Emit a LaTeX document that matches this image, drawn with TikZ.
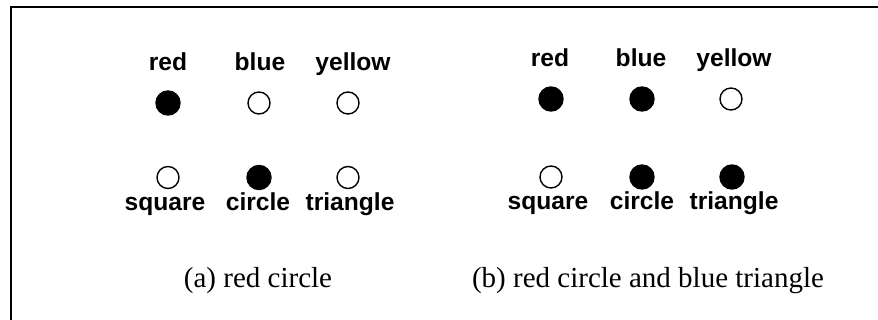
\documentclass[tikz,border=0pt]{standalone}
\usepackage{fontspec}
\setmainfont{Liberation Serif}
\setsansfont{Liberation Sans}
\usepackage{tikz}

\tikzset{
    fulldot/.style={circle,draw,fill=black,line width=0.7pt,minimum size=12pt,inner sep=0pt},
    emptydot/.style={circle,draw,fill=white,line width=0.7pt,minimum size=11pt,inner sep=0pt},
    attr/.style={anchor=base,inner sep=0pt,font=\sffamily\bfseries\fontsize{12.3}{14}\selectfont},
    capt/.style={anchor=base,inner sep=0pt,font=\rmfamily\fontsize{14.5}{17}\selectfont}
}

\begin{document}
\begin{tikzpicture}[x=0.5pt,y=-0.5pt]
    \useasboundingbox (0,0) rectangle (878,320);
    \coordinate (corner) at (11,7);
    \draw[line width=1pt] (11,320) -- (corner) -- (878,7);

    % (a) red circle
    \node[attr] (a-lred) at (168,71) {red};
    \node[attr] (a-lblue) at (260,71) {blue};
    \node[attr] (a-lyellow) at (353,71) {yellow};
    \node[fulldot] (a-red) at (168,103) {};
    \node[emptydot] (a-blue) at (259,103) {};
    \node[emptydot] (a-yellow) at (348,103) {};
    \node[emptydot] (a-square) at (168,177.5) {};
    \node[fulldot] (a-circle) at (259,177.5) {};
    \node[emptydot] (a-triangle) at (348,177.5) {};
    \node[attr] (a-lsquare) at (165,210.7) {square};
    \node[attr] (a-lcircle) at (258,210.7) {circle};
    \node[attr] (a-ltriangle) at (350,210.7) {triangle};
    \node[capt] (a-cap) at (258,287.5) {(a) red circle};

    % (b) red circle and blue triangle
    \node[attr] (b-lred) at (550,67) {red};
    \node[attr] (b-lblue) at (641,67) {blue};
    \node[attr] (b-lyellow) at (734,67) {yellow};
    \node[fulldot] (b-red) at (551,99) {};
    \node[fulldot] (b-blue) at (642,99) {};
    \node[emptydot] (b-yellow) at (731,99) {};
    \node[emptydot] (b-square) at (551,177) {};
    \node[fulldot] (b-circle) at (642,177) {};
    \node[fulldot] (b-triangle) at (732,177) {};
    \node[attr] (b-lsquare) at (548,210) {square};
    \node[attr] (b-lcircle) at (642,210) {circle};
    \node[attr] (b-ltriangle) at (734,210) {triangle};
    \node[capt] (b-cap) at (648,288) {(b) red circle and blue triangle};
\end{tikzpicture}
\end{document}
